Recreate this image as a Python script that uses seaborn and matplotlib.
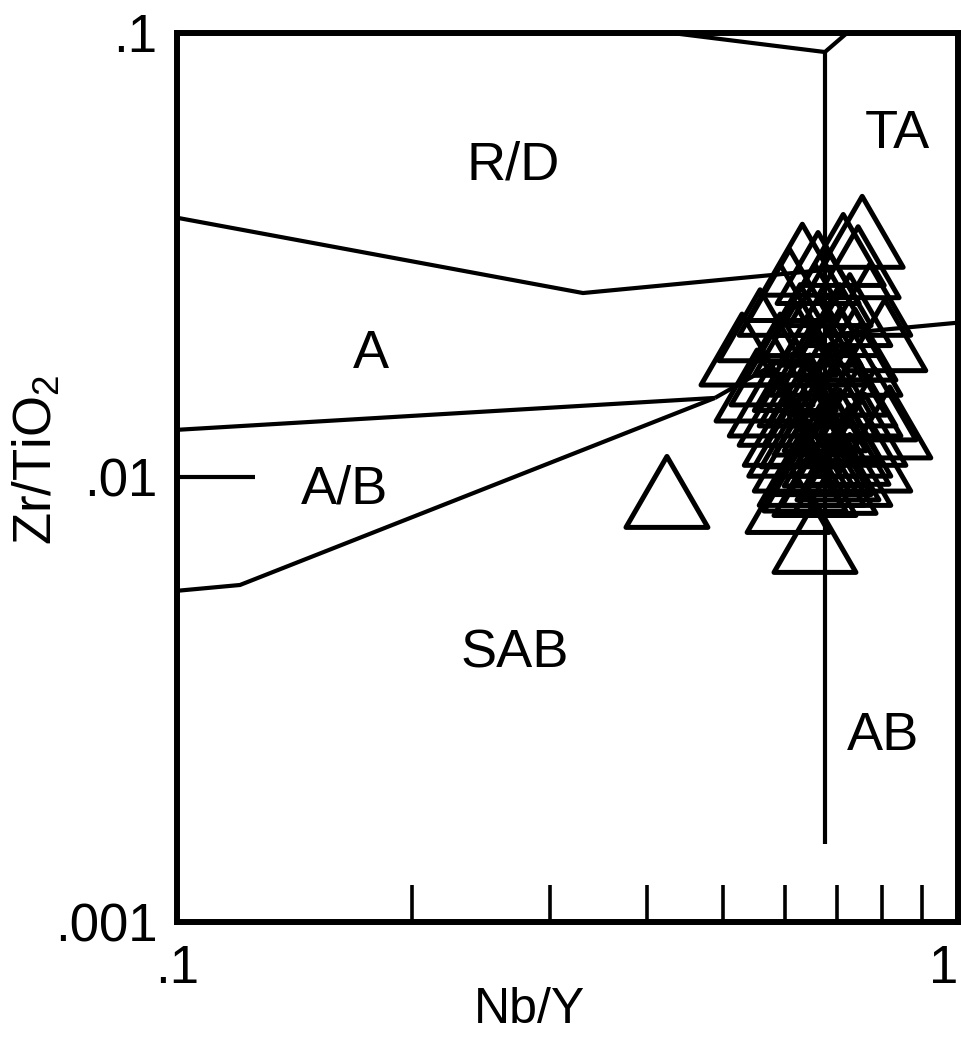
import matplotlib
matplotlib.use("Agg")
import matplotlib.pyplot as plt
import seaborn as sns
import pandas as pd
import numpy as np
from matplotlib.path import Path
from matplotlib.markers import MarkerStyle
from matplotlib.ticker import FixedLocator, NullLocator, FixedFormatter

# sample points, Nb/Y vs Zr/TiO2
nb_y = [0.754, 0.745, 0.713, 0.632, 0.662, 0.806, 0.818, 0.529, 0.558, 0.606,
        0.656, 0.424, 0.723, 0.702, 0.632, 0.578, 0.783, 0.592, 0.686, 0.727,
        0.619, 0.666, 0.749, 0.575, 0.628, 0.686, 0.738, 0.601, 0.656, 0.706,
        0.646, 0.676, 0.619, 0.760, 0.592, 0.650, 0.706, 0.672, 0.637, 0.771,
        0.609, 0.727, 0.553, 0.696,
        0.628, 0.656, 0.696, 0.609, 0.666, 0.727, 0.637, 0.676, 0.717, 0.656,
        0.706, 0.628, 0.676, 0.749, 0.592, 0.771, 0.646, 0.686, 0.619, 0.738]
zr_tio2 = [0.0357, 0.0305, 0.0325, 0.0309, 0.0296, 0.0209, 0.0133, 0.0194, 0.0220, 0.00904,
           0.00735, 0.00928, 0.0116, 0.0107, 0.0127, 0.0175, 0.0146, 0.0251, 0.0264, 0.0238,
           0.0204, 0.0215, 0.0184, 0.0149, 0.0157, 0.0166, 0.0157, 0.0128, 0.0135, 0.0131,
           0.0110, 0.0115, 0.0112, 0.0128, 0.0194, 0.0184, 0.0199, 0.0104, 0.0101, 0.0251,
           0.0271, 0.0104, 0.0161, 0.0149,
           0.0104, 0.00987, 0.00998, 0.0121, 0.0121, 0.0121, 0.0142, 0.0138, 0.0166, 0.0251,
           0.0226, 0.0226, 0.0194, 0.0149, 0.0142, 0.0112, 0.0157, 0.0110, 0.0170, 0.0199]

# field boundaries (Winchester & Floyd)
rd_a_x, rd_a_y = [0.1, 0.331, 0.6755], [0.0384, 0.0260, 0.0293]
a_ab_x, a_ab_y = [0.1, 0.4885], [0.0128, 0.0151]
ab_sab_x, ab_sab_y = [0.1, 0.1204, 0.4885], [0.00556, 0.00573, 0.0151]
link_x, link_y = [0.4885, 0.6755], [0.0151, 0.0209]
ta_ab_x, ta_ab_y = [0.6755, 1.0], [0.0209, 0.0223]
vert_x, vert_y = [0.6755, 0.6755], [0.0906, 0.0015]
top_x, top_y = [0.43, 0.6755, 0.721], [0.1, 0.0906, 0.1]
short_x, short_y = [0.1, 0.126], [0.01, 0.01]

field_names = ["R/D", "TA", "A", "A/B", "SAB", "AB"]
field_pos = [(0.430, 0.835), (0.923, 0.871), (0.248, 0.623),
             (0.215, 0.471), (0.433, 0.286), (0.904, 0.193)]

x_ticks = [0.1, 1]
x_ticklabels = [".1", "1"]
x_minor = [0.2, 0.3, 0.4, 0.5, 0.6, 0.7, 0.8, 0.9]
y_ticks = [0.001, 0.01, 0.1]
y_ticklabels = [".001", ".01", ".1"]

sns.set_style("white")
plt.rcParams['font.family'] = ['Liberation Sans', 'DejaVu Sans']
plt.rcParams['mathtext.fontset'] = 'custom'
plt.rcParams['mathtext.rm'] = 'Liberation Sans'
plt.rcParams['text.color'] = 'black'
plt.rcParams['axes.labelcolor'] = 'black'
plt.rcParams['xtick.color'] = 'black'
plt.rcParams['ytick.color'] = 'black'

fig = plt.figure(figsize=(9.62, 10.37), dpi=100)
ax = fig.add_axes([0.184, 0.1109, 0.8118, 0.8573])

lw = 3.0
for xs, ys in [(rd_a_x, rd_a_y), (a_ab_x, a_ab_y), (ab_sab_x, ab_sab_y), (link_x, link_y),
               (ta_ab_x, ta_ab_y), (vert_x, vert_y), (top_x, top_y), (short_x, short_y)]:
    ax.plot(xs, ys, color="black", lw=lw, solid_joinstyle="miter", solid_capstyle="butt", zorder=2)

tri = Path([(0, 0.866), (-1, -0.866), (1, -0.866), (0, 0.866)],
           [Path.MOVETO, Path.LINETO, Path.LINETO, Path.CLOSEPOLY])
marker = MarkerStyle(tri, joinstyle="miter")

df = pd.DataFrame({"Nb/Y": nb_y, "Zr/TiO2": zr_tio2})
sns.scatterplot(data=df, x="Nb/Y", y="Zr/TiO2", ax=ax, marker=marker, s=59 ** 2,
                facecolor="none", edgecolor="black", linewidth=3.6, zorder=3)

ax.set_xscale("log")
ax.set_yscale("log")
ax.set_xlim(0.1, 1)
ax.set_ylim(0.001, 0.1)

ax.xaxis.set_major_locator(FixedLocator(x_ticks))
ax.xaxis.set_major_formatter(FixedFormatter(x_ticklabels))
ax.xaxis.set_minor_locator(FixedLocator(x_minor))
ax.xaxis.set_minor_formatter(FixedFormatter([""] * len(x_minor)))
ax.yaxis.set_major_locator(FixedLocator(y_ticks))
ax.yaxis.set_major_formatter(FixedFormatter(y_ticklabels))
ax.yaxis.set_minor_locator(NullLocator())

ax.tick_params(axis="x", which="both", bottom=True)
ax.tick_params(axis="x", which="major", length=0, pad=16, labelsize=38)
ax.tick_params(axis="x", which="minor", direction="in", length=27, width=2.6, color="black")
ax.tick_params(axis="y", which="major", length=0, pad=14, labelsize=38)
ax.get_xticklabels()[-1].set_ha("right")

for sp in ax.spines.values():
    sp.set_color("black")
    sp.set_linewidth(4.3)

for name, (px, py) in zip(field_names, field_pos):
    ax.text(px, py, name, transform=ax.transAxes, ha="center", va="baseline", fontsize=39)

ax.set_xlabel("Nb/Y", fontsize=36)
ax.set_ylabel("Zr/TiO$_\\mathregular{2}$", fontsize=38)
ax.xaxis.set_label_coords(0.452, -0.073)
ax.yaxis.set_label_coords(-0.147, 0.52)
ax.xaxis.label.set_va("top")

fig.savefig("out.png", dpi=100, facecolor="white")
